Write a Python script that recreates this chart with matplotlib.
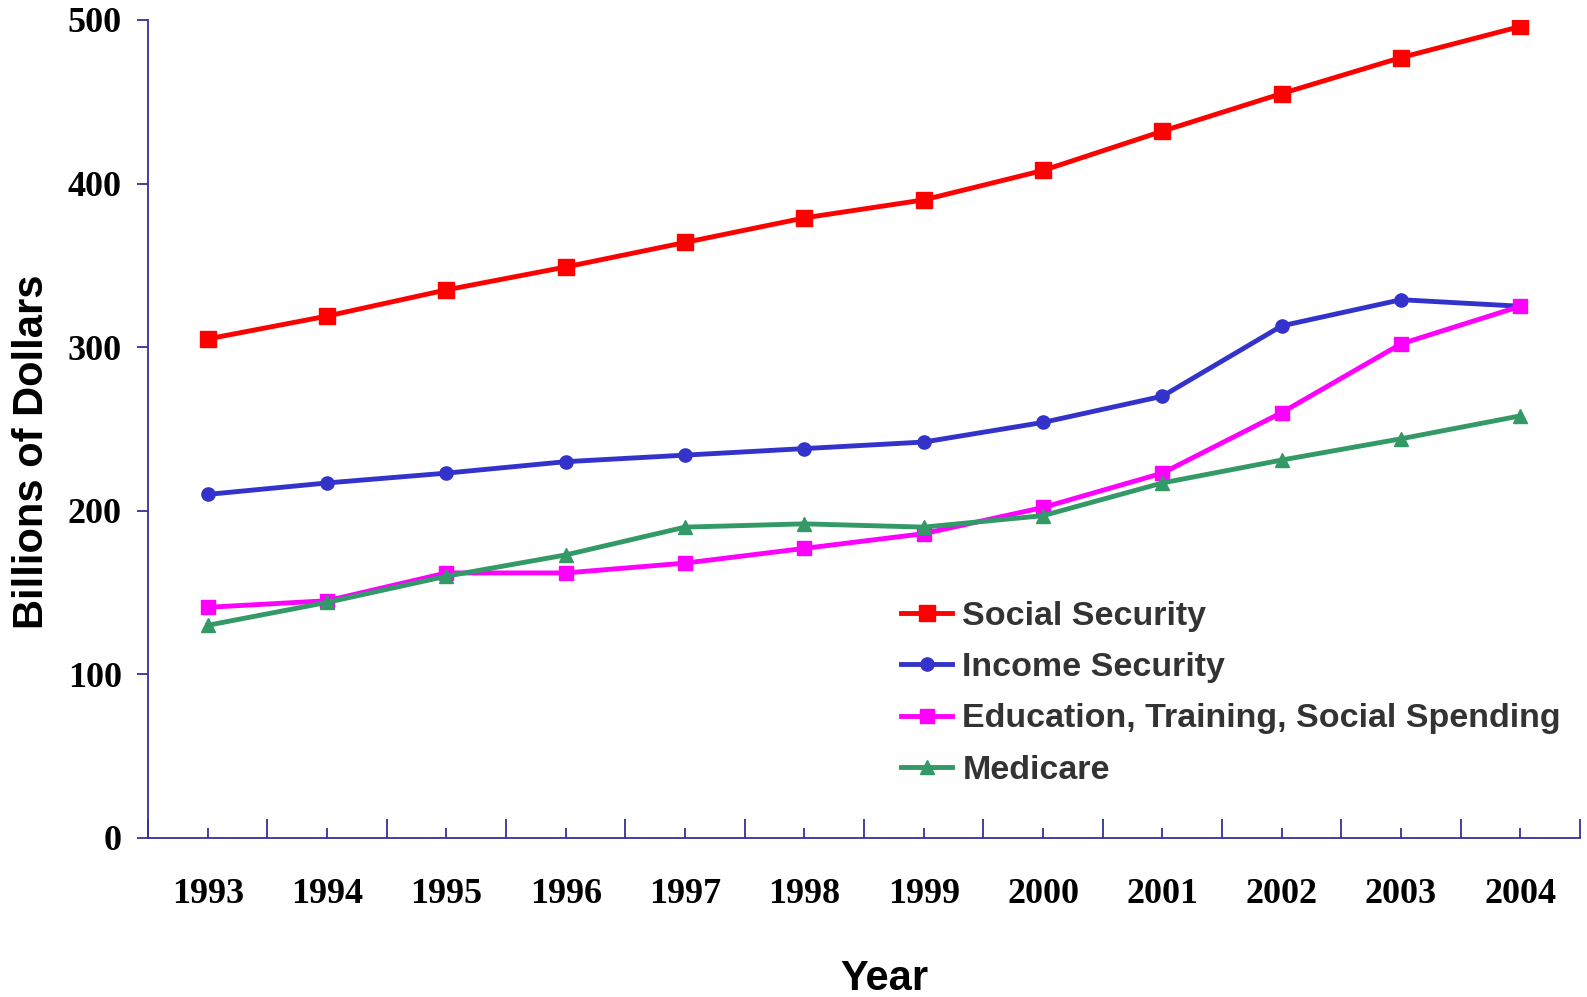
import matplotlib
matplotlib.use('Agg')
import matplotlib.pyplot as plt

years = ['1993', '1994', '1995', '1996', '1997', '1998', '1999', '2000', '2001', '2002', '2003', '2004']
social_security = [305, 319, 335, 349, 364, 379, 390, 408, 432, 455, 477, 496]
income_security = [210, 217, 223, 230, 234, 238, 242, 254, 270, 313, 329, 325]
education = [141, 145, 162, 162, 168, 177, 186, 202, 223, 260, 302, 325]
medicare = [130, 144, 160, 173, 190, 192, 190, 197, 217, 231, 244, 258]
yticks = [0, 100, 200, 300, 400, 500]

axis_color = '#333399'
serif = ['Liberation Serif', 'DejaVu Serif']
sans = ['Liberation Sans', 'DejaVu Sans']

fig = plt.figure(figsize=(15.87, 9.97), dpi=100)
ax = fig.add_axes([0.0933, 0.1595, 0.9023, 0.8205])

x = list(range(len(years)))
ax.plot(x, social_security, color='#ff0000', lw=3.5, marker='s', ms=12, label='Social Security')
ax.plot(x, income_security, color='#3333cc', lw=3.5, marker='o', ms=9.5, label='Income Security')
ax.plot(x, education, color='#ff00ff', lw=3.5, marker='s', ms=9.5, label='Education, Training, Social Spending')
ax.plot(x, medicare, color='#339966', lw=3.5, marker='^', ms=10.5, label='Medicare')

ax.set_xlim(-0.5, len(years) - 0.5)
ax.set_ylim(0, 500)
ax.set_yticks(yticks)
ax.set_xticks(x)
ax.set_xticklabels(years)
ax.set_xticks([i - 0.5 for i in range(len(years) + 1)], minor=True)

for side in ['top', 'right']:
    ax.spines[side].set_visible(False)
for side in ['left', 'bottom']:
    ax.spines[side].set_color(axis_color)
    ax.spines[side].set_linewidth(1.3)

ax.tick_params(axis='x', which='major', direction='in', length=7, width=1.3, color=axis_color, pad=29)
ax.tick_params(axis='x', which='minor', direction='in', length=14, width=1.3, color=axis_color)
ax.tick_params(axis='y', direction='out', length=8, width=1.3, color=axis_color, pad=11)
for lab in ax.get_xticklabels() + ax.get_yticklabels():
    lab.set_fontfamily(serif)
    lab.set_fontweight('bold')
    lab.set_fontsize(26)

ax.set_ylabel('Billions of Dollars', fontsize=30, fontweight='bold', family=sans)
ax.yaxis.set_label_coords(-0.067, 0.472)
ax.text(0.514, -0.172, 'Year', transform=ax.transAxes, ha='center', va='center',
        fontsize=30, fontweight='bold', family=sans)

leg = ax.legend(loc='upper left', bbox_to_anchor=(0.514, 0.311), frameon=False, borderpad=0,
                handlelength=1.5, handletextpad=0.3, labelspacing=0.6,
                prop={'family': ['Liberation Sans Narrow'] + sans, 'weight': 'bold', 'size': 24.5})
for t in leg.get_texts():
    t.set_color('#333333')

fig.savefig('out.png', dpi=100)
